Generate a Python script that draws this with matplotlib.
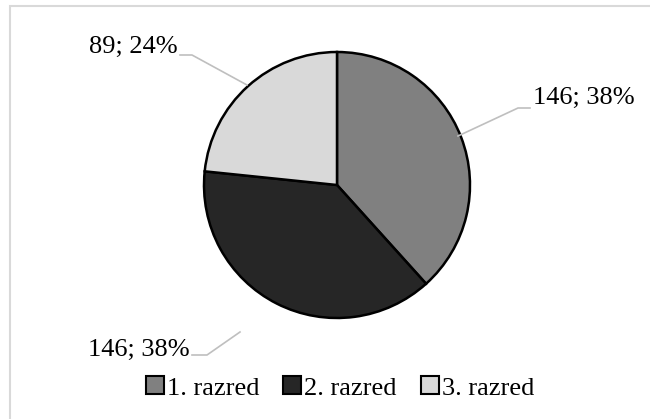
import matplotlib.pyplot as plt
from matplotlib.patches import Rectangle

# data
categories = ["1. razred", "2. razred", "3. razred"]
counts = [146, 146, 89]
percents = [38, 38, 24]
colors = ["#808080", "#262626", "#d9d9d9"]

plt.rcParams['font.family'] = ['Liberation Serif', 'DejaVu Serif']

W, H = 650, 419
fig = plt.figure(figsize=(6.5, 4.19), dpi=100)
ax = fig.add_axes([0, 0, 1, 1])

# outer border (only top/left visible in the reference)
fig.patches.append(Rectangle((10 / W, -0.05), 1.2, (H - 6) / H + 0.05,
                             transform=fig.transFigure, fill=False,
                             edgecolor="#d9d9d9", linewidth=1.5))

cx, cy, r = 337, H - 185, 133
wedges, _ = ax.pie(counts, colors=colors, startangle=90, counterclock=False,
                   center=(cx, cy), radius=r,
                   wedgeprops=dict(edgecolor="black", linewidth=1.8))
ax.set_xlim(0, W)
ax.set_ylim(0, H)
ax.set_aspect('equal')
ax.axis('off')

# label layout (pixel positions from the top-left corner)
label_pos = [(533, 98, 'left'), (190, 350, 'right'), (178, 47, 'right')]
leaders = [
    [(458, 136), (518, 108), (530, 108)],
    [(240, 332), (207, 355), (192, 355)],
    [(247, 85), (192, 55), (180, 55)],
]

for i in range(len(counts)):
    x, y, ha = label_pos[i]
    ax.text(x, H - y, f"{counts[i]}; {percents[i]}%", ha=ha, va='center',
            fontsize=19, color="black")
    pts = leaders[i]
    ax.plot([p[0] for p in pts], [H - p[1] for p in pts],
            color="#bfbfbf", linewidth=1.2)

leg = fig.legend(wedges, categories, loc='center', ncol=3, frameon=False,
                 bbox_to_anchor=(340 / W, (H - 388) / H), fontsize=19,
                 handlelength=0.68, handleheight=0.68, handletextpad=0.12,
                 columnspacing=0.9, borderaxespad=0)
for h in leg.legend_handles:
    h.set_edgecolor("black")
    h.set_linewidth(1.5)

fig.savefig("out.png", dpi=100)
